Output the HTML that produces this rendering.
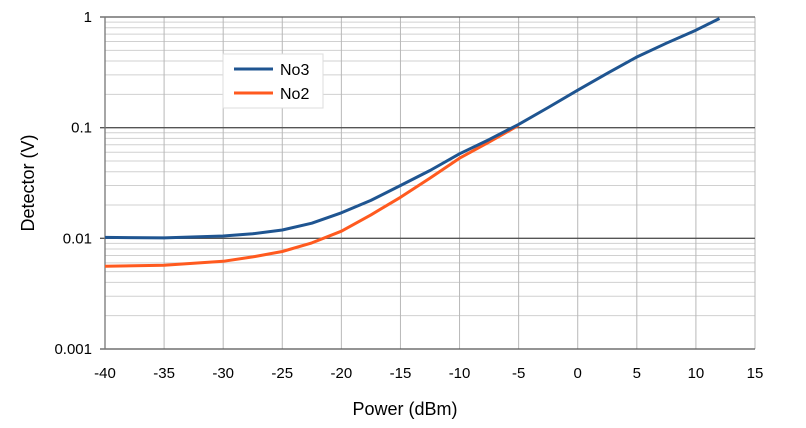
<!DOCTYPE html>
<html><head><meta charset="utf-8"><style>
body{margin:0;background:#fff;font-family:"Liberation Sans",sans-serif}
svg{display:block}
</style></head><body>
<svg id="chart" width="806" height="428"></svg>
<script>
const xTicks=[-40,-35,-30,-25,-20,-15,-10,-5,0,5,10,15];
const yTickLabels=["1","0.1","0.01","0.001"];
const powerNo3=[-40,-35,-30,-27.5,-25,-22.5,-20,-17.5,-15,-12.5,-10,-7.5,-5,-2.5,0,2.5,5,7.5,10,12];
const no3=[0.0102,0.0101,0.0105,0.011,0.0119,0.0137,0.017,0.022,0.0300,0.041,0.058,0.078,0.107,0.152,0.218,0.31,0.435,0.58,0.76,0.97];
const powerNo2=[-40,-35,-30,-27.5,-25,-22.5,-20,-17.5,-15,-12.5,-10,-7.5,-5];
const no2=[0.0056,0.0057,0.0062,0.0068,0.0076,0.0091,0.0116,0.0163,0.0235,0.035,0.053,0.074,0.105];
const L=105,R=755,T=17,B=349;
const sx=v=>L+(v+40)/55*(R-L);
const sy=v=>T+(0-Math.log10(v))/3*(B-T);
const svg=document.getElementById('chart');const NS="http://www.w3.org/2000/svg";
function mk(t,a,p){const e=document.createElementNS(NS,t);for(const k in a)e.setAttribute(k,a[k]);(p||svg).appendChild(e);return e;}
// minor grid
for(let d=0;d<3;d++){for(let m=2;m<=9;m++){const y=sy(Math.pow(10,-d-1)*m);
const g=mk('line',{x1:L,x2:R,y1:y,y2:y,stroke:'#d0d0d0','stroke-width':1});

}}
xTicks.forEach(v=>{const x=sx(v);
const g=mk('line',{x1:x,x2:x,y1:T,y2:B,stroke:'#b8b8b8','stroke-width':1});


const t=mk('text',{x:x,y:378,'text-anchor':'middle','font-size':15,fill:'#000'});t.textContent=v;

});
yTickLabels.forEach((s,i)=>{const y=sy(parseFloat(s));
const g=mk('line',{x1:L-5,x2:R,y1:y,y2:y,stroke:'#555','stroke-width':1.3});


const t=mk('text',{x:L-13,y:y+5,'text-anchor':'end','font-size':15,fill:'#000'});t.textContent=s;

});
const ax=mk('line',{x1:L,x2:L,y1:T,y2:B,stroke:'#777','stroke-width':1.3});


function series(xs,ys,c,name){const d=xs.map((x,i)=>(i?'L':'M')+sx(x).toFixed(1)+' '+sy(ys[i]).toFixed(1)).join(' ');
const p=mk('path',{d:d,fill:'none',stroke:c,'stroke-width':3,'stroke-linejoin':'round'});

}
series(powerNo2,no2,'#ff5a1f','series-no2');
series(powerNo3,no3,'#1f5591','series-no3');
const lg=mk('g',{});


mk('rect',{x:223,y:54,width:100,height:54,fill:'#fff',stroke:'#ddd'},lg);
mk('line',{x1:234,x2:273,y1:69,y2:69,stroke:'#1f5591','stroke-width':3},lg);
mk('line',{x1:234,x2:273,y1:93,y2:93,stroke:'#ff5a1f','stroke-width':3},lg);
const t1=mk('text',{x:280,y:75,'font-size':16},lg);t1.textContent='No3';


const t2=mk('text',{x:280,y:99,'font-size':16},lg);t2.textContent='No2';


const xt=mk('text',{x:405,y:415,'text-anchor':'middle','font-size':18});xt.textContent='Power (dBm)';


const yt=mk('text',{x:0,y:0,'text-anchor':'middle','font-size':18,transform:'translate(34,183) rotate(-90)'});yt.textContent='Detector  (V)';


</script>
</body></html>
